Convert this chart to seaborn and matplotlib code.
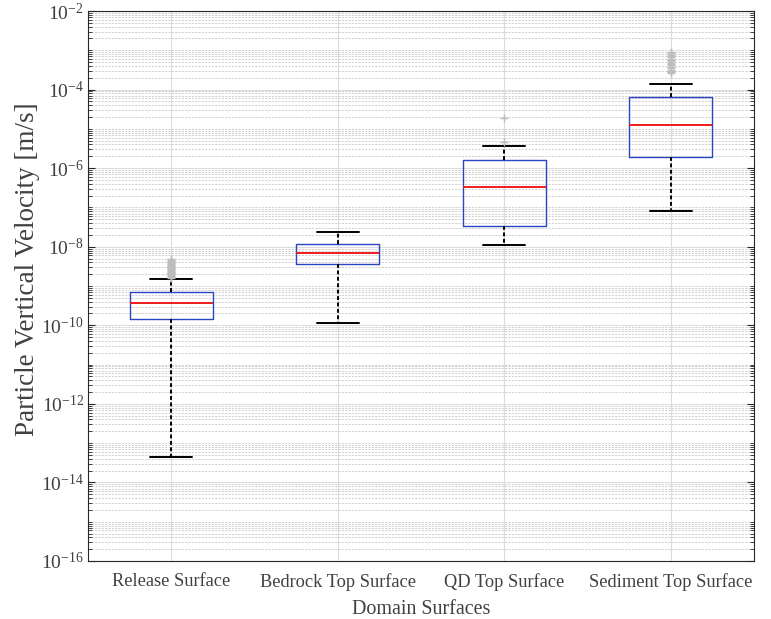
import numpy as np
import pandas as pd
import matplotlib
matplotlib.use("Agg")
import matplotlib.pyplot as plt
import seaborn as sns
from matplotlib.ticker import FixedLocator, LogLocator, NullFormatter, FuncFormatter

# ---- data ----
categories = ["Release Surface", "Bedrock Top Surface", "QD Top Surface", "Sediment Top Surface"]
whisker_low = [4.5e-14, 1.17e-10, 1.1e-8, 8.1e-8]
q1_vals = [1.45e-10, 3.64e-9, 3.37e-8, 1.92e-6]
median_vals = [3.6e-10, 6.9e-9, 3.26e-7, 1.28e-5]
q3_vals = [7.2e-10, 1.17e-8, 1.58e-6, 6.6e-5]
whisker_high = [1.51e-9, 2.33e-8, 3.66e-6, 1.41e-4]
outliers_release = [1.6e-9, 1.7e-9, 1.8e-9, 1.9e-9, 2.0e-9, 2.1e-9, 2.2e-9, 2.3e-9,
                    2.4e-9, 2.5e-9, 2.65e-9, 2.8e-9, 2.95e-9, 3.1e-9, 3.3e-9, 3.5e-9,
                    3.7e-9, 3.9e-9, 4.1e-9, 4.4e-9, 4.7e-9, 5.0e-9]
outliers_bedrock = []
outliers_qd = [4.6e-6, 1.86e-5]
outliers_sediment = [2.6e-4, 2.8e-4, 3.0e-4, 3.2e-4, 3.5e-4, 3.8e-4, 4.1e-4, 4.4e-4,
                     4.8e-4, 5.2e-4, 5.6e-4, 6.1e-4, 6.6e-4, 7.2e-4, 7.8e-4, 8.5e-4,
                     9.2e-4]
ytick_exponents = [-16, -14, -12, -10, -8, -6, -4, -2]

# ---- style ----
sns.set_theme(style="white")
plt.rcParams["font.family"] = ["Liberation Serif", "DejaVu Serif"]
plt.rcParams["mathtext.fontset"] = "custom"
plt.rcParams["mathtext.rm"] = "Liberation Serif"
plt.rcParams["mathtext.it"] = "Liberation Serif:italic"
plt.rcParams["mathtext.bf"] = "Liberation Serif:bold"

text_color = "#404040"

fig = plt.figure(figsize=(7.71, 6.19), dpi=100)
ax = fig.add_axes([88 / 771, 1 - 561 / 619, (754 - 88) / 771, (561 - 11) / 619])

positions = list(range(len(categories)))
stats = []
for i, name in enumerate(categories):
    stats.append(dict(label=name, med=median_vals[i], q1=q1_vals[i], q3=q3_vals[i],
                      whislo=whisker_low[i], whishi=whisker_high[i], fliers=[]))

ax.bxp(stats, positions=positions, widths=0.5, capwidths=0.25, showfliers=False,
       patch_artist=False,
       boxprops=dict(color="#2a44c2", linewidth=1.0),
       medianprops=dict(color="#ee1c1c", linewidth=1.4),
       whiskerprops=dict(color="black", linewidth=1.4, linestyle=(0, (2.0, 1.3))),
       capprops=dict(color="black", linewidth=1.4),
       zorder=3)

# outliers drawn with seaborn
out_rows = []
for i, lst in enumerate([outliers_release, outliers_bedrock, outliers_qd, outliers_sediment]):
    for v in lst:
        out_rows.append({"pos": positions[i], "value": v})
out_df = pd.DataFrame(out_rows)
sns.scatterplot(data=out_df, x="pos", y="value", marker="+", s=30, color="#bdbdbd",
                linewidth=1.0, ax=ax, zorder=4, legend=False)

ax.set_yscale("log")
ax.set_ylim(1e-16, 1e-2)
ax.set_xlim(-0.5, len(categories) - 0.5)

ax.yaxis.set_major_locator(FixedLocator([10.0 ** e for e in ytick_exponents]))
ax.yaxis.set_major_formatter(FuncFormatter(lambda v, p: r"$10^{%d}$" % int(round(np.log10(v)))))
ax.yaxis.set_minor_locator(LogLocator(base=10, subs=np.arange(1, 10), numticks=100))
ax.yaxis.set_minor_formatter(NullFormatter())

ax.set_xticks(positions)
ax.set_xticklabels(categories)

ax.tick_params(axis="y", which="major", direction="in", length=5, width=0.8,
               left=True, right=True, labelsize=14, colors="#262626",
               labelcolor=text_color, pad=3)
ax.tick_params(axis="y", which="minor", direction="in", length=3, width=0.6,
               left=True, right=True, colors="#262626")
ax.tick_params(axis="x", which="major", direction="in", length=0, labelsize=13.2,
               colors="#262626", labelcolor=text_color, pad=9)

ax.grid(True, which="major", axis="both", color="#dcdcdc", linewidth=0.8, linestyle="-")
ax.yaxis.grid(True, which="minor", color="#c8c8c8", linewidth=0.6, linestyle=(0, (2.5, 1.5)))
ax.set_axisbelow(True)

for s in ax.spines.values():
    s.set_color("#262626")
    s.set_linewidth(0.8)
    s.set_visible(True)

ax.set_xlabel("Domain Surfaces", fontsize=14.4, color=text_color, labelpad=6)
ax.set_ylabel("Particle Vertical Velocity [m/s]", fontsize=19.5, color=text_color)
ax.yaxis.set_label_coords(-0.072, 0.53)

fig.savefig("out.png", dpi=100)
